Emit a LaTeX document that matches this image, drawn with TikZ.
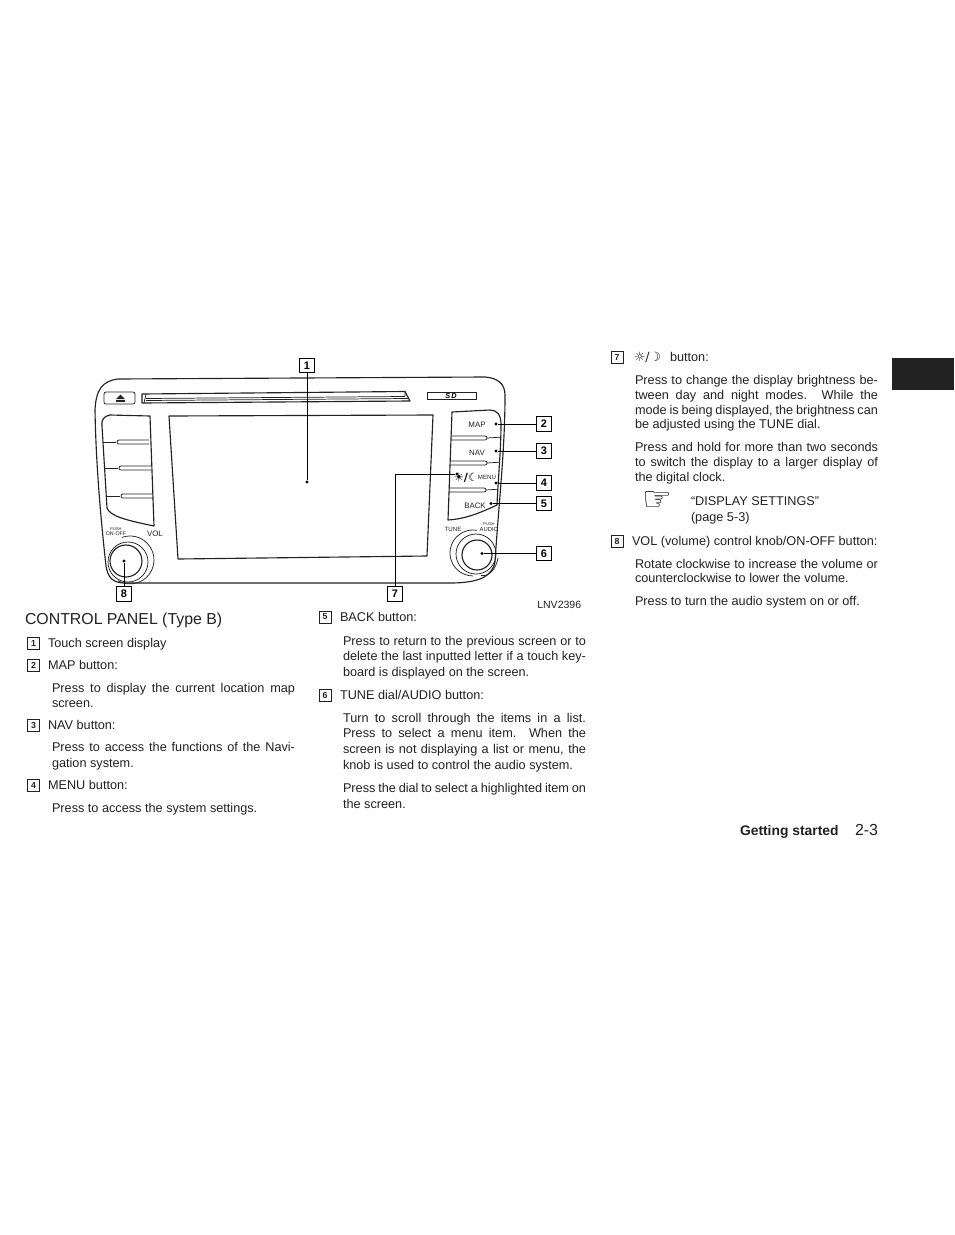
\documentclass[tikz,border=0pt]{standalone}
\usepackage{fontspec}
\setmainfont{Liberation Sans}
\newfontfamily\dejavu{DejaVu Sans}
\newcounter{tn}
\tikzset{
  x=0.75pt,y=-0.75pt,
  txt/.style={anchor=base west,inner sep=0pt,outer sep=0pt,text=ink,font=\fontsize{9.52}{11}\selectfont},
  pl/.style={draw=ink,line width=0.55pt,line join=round},
  plt/.style={draw=ink,line width=0.85pt,line join=round},
  callout/.style={draw=black,fill=white,line width=0.9pt,minimum width=14.5*0.75pt,minimum height=14.5*0.75pt,inner sep=0pt,font=\fontsize{8.2}{9}\selectfont\bfseries,text=black},
  numbox/.style={draw=ink,line width=0.6pt,minimum width=12*0.75pt,minimum height=12*0.75pt,inner sep=0pt,font=\fontsize{6.6}{7}\selectfont\bfseries,text=ink},
  leaddot/.style={circle,fill=black,inner sep=0pt,minimum size=2.6pt},
  lead/.style={draw=black,line width=0.65pt},
  dlab/.style={inner sep=0pt,text=ink,font=\fontsize{5.9}{6}\selectfont},
  dsmall/.style={inner sep=0pt,text=ink,font=\fontsize{3.7}{4}\selectfont},
}
\definecolor{ink}{HTML}{222222}
\newcommand{\tl}[3]{\stepcounter{tn}\node[txt] (t\arabic{tn}) at (#1,#2) {#3};}
\newcommand{\jl}[4]{\stepcounter{tn}\node[txt] (t\arabic{tn}) at (#1,#2) {\makebox[\dimexpr #3pt*3/4\relax][s]{#4}};}
\newcommand{\nb}[3]{\node[numbox] (b#3) at (#1,#2) {#3};}
\begin{document}
\begin{tikzpicture}
\useasboundingbox (0,0) rectangle (954,1235);
\fill[white] (0,0) rectangle (954,1235);
\fill[ink] (892,358) rectangle (954,390);
% panel outline
\path[plt] (118,379) .. controls (102,381) and (96,390) .. (95,410)
  .. controls (96,470) and (102,530) .. (106,566)
  .. controls (108,578) and (113,583) .. (125,583)
  -- (450,583) .. controls (478,583) and (492,577) .. (495,562)
  .. controls (499,500) and (505,450) .. (505,395)
  .. controls (505,384) and (498,378) .. (485,377) -- cycle;
% eject
\draw[pl,rounded corners=1.5pt] (104,392) rectangle (135,404);
\fill[ink] (116,399) -- (120.5,394.5) -- (125,399) -- cycle;
\fill[ink] (116,400) rectangle (125,401.5);
% slot
\path[plt] (142,394) -- (405,391.5) -- (410,401) -- (142,403) -- cycle;
\path[pl] (146,394) -- (144,403) (146,398.5) -- (405,396.5) -- (405,391.5) (146,400.5) -- (408,398.5);
% SD
\draw[pl] (427,392) rectangle (476,399);
\node[inner sep=0pt,font=\fontsize{5.5}{5}\selectfont\bfseries\itshape] (sd) at (451,395.5) {S\,D};
% screen
\path[plt] (169,416) -- (433,415) -- (427,556) -- (178,559) -- cycle;
% left buttons
\path[plt] (150,416) -- (110,415) .. controls (104,416) and (101,420) .. (102,426)
  -- (107,508) .. controls (110,516) and (125,520) .. (154,526) -- cycle;
\foreach \yy/\xx in {442/103,468/105,496/107}{
  \path[pl] (\xx,\yy) -- (\xx+13,\yy);
  \path[pl] (\xx+46,\yy-2) -- (\xx+16,\yy-2) arc[start angle=-90,end angle=-270,radius=2] -- (\xx+46,\yy+2);
}
% right buttons
\path[plt] (452,412) -- (448,520) .. controls (465,519) and (480,513) .. (497,505)
  .. controls (498,480) and (501,450) .. (501,424)
  .. controls (501,415) and (497,410) .. (490,410) -- cycle;
\foreach \yy/\xa/\xb/\xc in {438/451/485/500,463/450/485/499,490/449/484/498}{
  \path[pl] (\xa,\yy-2) -- (\xb,\yy-2) arc[start angle=-90,end angle=90,radius=2] -- (\xa,\yy+2);
  \path[pl] (\xb+2,\yy) -- (\xc,\yy-0.8);
}
% VOL knob
\draw[plt] (126,561) circle[radius=16];
\draw[pl] (128,562) circle[radius=20];
\path[pl] (121.8,537.4) arc[start angle=-110,end angle=120,radius=24];
% TUNE knob
\draw[plt] (477,555) circle[radius=15];
\draw[pl] (476,554) circle[radius=20];
\path[pl] (477,530.3) arc[start angle=-80,end angle=-270,radius=23];
\path[pl] (481,575.5) .. controls (489,577) and (496,569) .. (498,558);
% diagram labels
\node[dlab] (lmap) at (477,425) {MAP};
\node[dlab] (lnav) at (477,453) {NAV};
\node[dlab,font=\fontsize{4.6}{5}\selectfont] (lmenu) at (487,477.5) {MENU};
\node[dlab] (lback) at (475,506) {BACK};
\node[dlab,font=\fontsize{4.6}{5}\selectfont] (ltune) at (453,529) {TUNE};
\node[dlab,font=\fontsize{4.4}{5}\selectfont] (laud) at (489,529) {AUDIO};
\node[dsmall,font=\fontsize{3}{3}\selectfont] (lpa) at (489,524.5) {PUSH};
\node[dsmall,font=\fontsize{3}{3}\selectfont] (lpb) at (116,529) {PUSH};
\node[dlab,font=\fontsize{4}{4}\selectfont] (lonoff) at (116,534) {ON·OFF};
\node[dlab] (lvol) at (155,533.5) {VOL};
\node[inner sep=0pt,font=\fontsize{8.5}{8}\dejavu\selectfont] (licon) at (466,478) {\textbf{☀/☾}};
\node[inner sep=0pt,font=\fontsize{7.9}{9}\selectfont,text=ink,anchor=base west] (lnv) at (537,608) {LNV2396};
% leader dots
\node[leaddot] (d1) at (307,482) {};
\node[leaddot] (d2) at (496,424) {};
\node[leaddot] (d3) at (496,451) {};
\node[leaddot] (d4) at (496,483) {};
\node[leaddot] (d5) at (491,503.5) {};
\node[leaddot] (d6) at (482,553.5) {};
\node[leaddot] (d7) at (457,474) {};
\node[leaddot] (d8) at (124,561) {};
% callouts
\node[callout] (c1) at (307,365.5) {1};
\node[callout] (c2) at (544,424) {2};
\node[callout] (c3) at (544,451) {3};
\node[callout] (c4) at (544,483) {4};
\node[callout] (c5) at (544,503.5) {5};
\node[callout] (c6) at (544,553.5) {6};
\node[callout] (c7) at (395,594) {7};
\node[callout] (c8) at (124,594) {8};
\draw[lead] (c1) -- (d1);
\draw[lead] (c2) -- (d2);
\draw[lead] (c3) -- (d3);
\draw[lead] (c4) -- (d4);
\draw[lead] (c5) -- (d5);
\draw[lead] (c6) -- (d6);
\draw[lead] (c7) |- (d7);
\draw[lead] (c8) -- (d8);
% left column
\node[txt,font=\fontsize{11.9}{14}\selectfont] (title) at (25,624) {CONTROL PANEL (Type B)};
\nb{33.5}{643}{1}\tl{48}{647}{Touch screen display}
\nb{33.5}{665}{2}\tl{48}{669}{MAP button:}
\jl{52}{692}{243}{Press to display the current location map}
\tl{52}{707}{screen.}
\nb{33.5}{725}{3}\tl{48}{729}{NAV button:}
\jl{52}{751}{243}{Press to access the functions of the Navi-}
\tl{52}{767}{gation system.}
\nb{33.5}{785}{4}\tl{48}{789}{MENU button:}
\tl{52}{812}{Press to access the system settings.}
% middle column
\node[numbox] (b5) at (325,617) {5};\tl{340}{621}{BACK button:}
\jl{343}{645}{243}{Press to return to the previous screen or to}
\jl{343}{660}{243}{delete the last inputted letter if a touch key-}
\tl{343}{676}{board is displayed on the screen.}
\node[numbox] (b6) at (325,695) {6};\tl{340}{699}{TUNE dial/AUDIO button:}
\jl{343}{722}{243}{Turn to scroll through the items in a list.}
\jl{343}{737}{243}{Press to select a menu item. When the}
\jl{343}{753}{243}{screen is not displaying a list or menu, the}
\tl{343}{769}{knob is used to control the audio system.}
\jl{343}{792}{243}{Press the dial to select a highlighted item on}
\tl{343}{808}{the screen.}
% right column
\node[numbox] (b7) at (617,357) {7};
\node[txt,font=\fontsize{9.5}{11}\dejavu\selectfont] (ic) at (634,361) {☼/☽};
\tl{670}{361}{button:}
\jl{635}{384}{243}{Press to change the display brightness be-}
\jl{635}{399}{243}{tween day and night modes. While the}
\jl{635}{414}{243}{mode is being displayed, the brightness can}
\tl{635}{428}{be adjusted using the TUNE dial.}
\jl{635}{451}{243}{Press and hold for more than two seconds}
\jl{635}{466}{243}{to switch the display to a larger display of}
\tl{635}{481}{the digital clock.}
\node[inner sep=0pt,text=black,font=\fontsize{25}{25}\dejavu\bfseries\selectfont] (hand) at (657,501) {☞};
\tl{691}{505}{“DISPLAY SETTINGS”}
\tl{691}{521}{(page 5-3)}
\node[numbox] (b8) at (617,541) {8};\tl{632}{545}{VOL (volume) control knob/ON-OFF button:}
\jl{635}{568}{243}{Rotate clockwise to increase the volume or}
\tl{635}{582}{counterclockwise to lower the volume.}
\tl{635}{605}{Press to turn the audio system on or off.}
% footer
\node[txt,font=\fontsize{10.4}{12}\selectfont\bfseries] (foot) at (740,835) {Getting started};
\node[txt,font=\fontsize{12}{14}\selectfont] (pg) at (855,835) {2-3};
\end{tikzpicture}
\end{document}
